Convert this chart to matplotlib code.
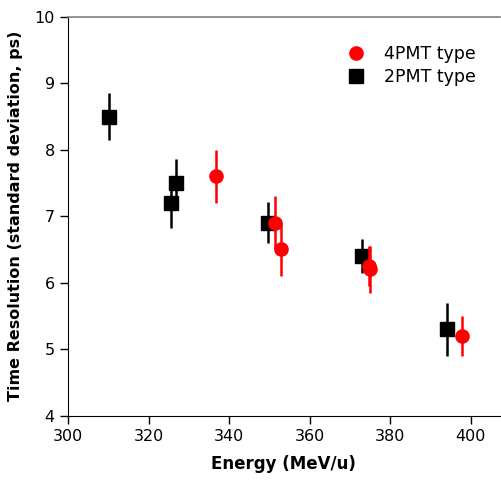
import numpy as np
import matplotlib
matplotlib.use('Agg')
import matplotlib.pyplot as plt
from matplotlib.lines import Line2D

# 4PMT type (red circles)
e_4pmt = [336.8, 351.5, 352.8, 374.8, 375.0, 397.8]
t_4pmt = [7.60, 6.90, 6.50, 6.25, 6.20, 5.20]
err_4pmt = [0.40, 0.40, 0.40, 0.30, 0.35, 0.30]

# 2PMT type (black squares)
e_2pmt = [310.2, 325.5, 326.7, 349.7, 372.9, 394.1]
t_2pmt = [8.50, 7.20, 7.50, 6.90, 6.40, 5.30]
err_2pmt = [0.35, 0.38, 0.36, 0.31, 0.26, 0.40]

plt.rcParams['font.family'] = 'DejaVu Sans'

fig = plt.figure(figsize=(5.01, 4.80), dpi=100)
ax = fig.add_axes([0.1357, 0.134, 0.862, 0.831])

ax.errorbar(e_2pmt, t_2pmt, yerr=err_2pmt, fmt='s', color='black',
            ms=9.5, elinewidth=1.8, capsize=0, zorder=3)
ax.errorbar(e_4pmt, t_4pmt, yerr=err_4pmt, fmt='o', color='red',
            ms=9.5, elinewidth=1.8, capsize=0, zorder=4)

ax.set_xlim(300, 407.2)
ax.set_ylim(4, 10)
ax.set_xticks(np.arange(300, 401, 20))
ax.set_yticks(np.arange(4, 11, 1))
ax.tick_params(direction='out', length=6, width=1, labelsize=11.5)

ax.spines['right'].set_visible(False)
ax.spines['top'].set_color('#808080')
ax.spines['top'].set_linewidth(1.2)

ax.set_xlabel('Energy (MeV/u)', fontsize=12, fontweight='bold', labelpad=8)
ax.set_ylabel('Time Resolution (standard deviation, ps)', fontsize=11.5,
              fontweight='bold', labelpad=8)

handles = [Line2D([], [], ls='none', marker='o', color='red', ms=9.5),
           Line2D([], [], ls='none', marker='s', color='black', ms=9.5)]
ax.legend(handles, ['4PMT type', '2PMT type'], loc='upper left',
          bbox_to_anchor=(0.607, 0.968), frameon=False, fontsize=12.5,
          handletextpad=1.0, labelspacing=0.3, handlelength=1.2)

fig.savefig('out.png', dpi=100)
